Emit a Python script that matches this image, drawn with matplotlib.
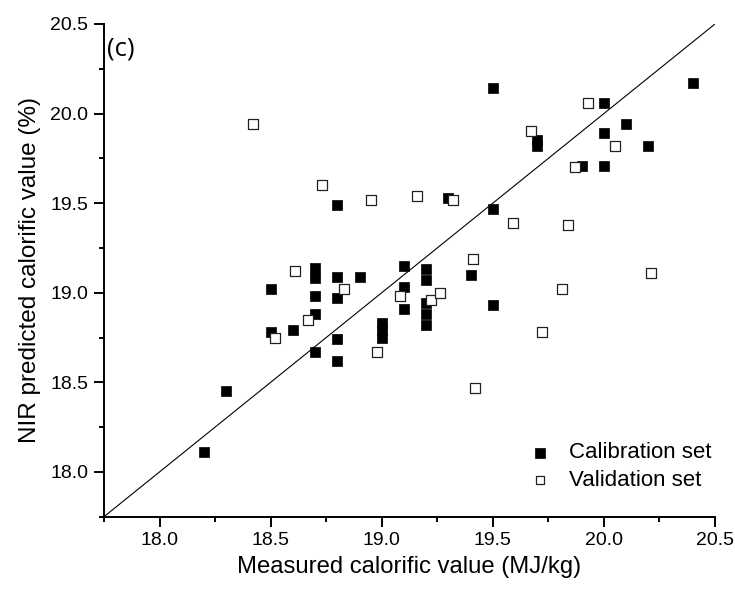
import matplotlib
matplotlib.use("Agg")
import matplotlib.pyplot as plt
from matplotlib.ticker import MultipleLocator
import numpy as np

plt.rcParams['font.family'] = ['Liberation Sans', 'DejaVu Sans']

# calibration set (filled squares)
cal_x = [18.2, 18.3, 18.5, 18.5, 18.6, 18.7, 18.7, 18.7, 18.7, 18.7,
         18.8, 18.8, 18.8, 18.8, 18.8, 18.9, 19.0, 19.0, 19.0, 19.1,
         19.1, 19.1, 19.2, 19.2, 19.2, 19.2, 19.2, 19.3, 19.4, 19.5,
         19.5, 19.5, 19.7, 19.7, 19.9, 20.0, 20.0, 20.0, 20.1, 20.2, 20.4]
cal_y = [18.11, 18.45, 19.02, 18.78, 18.79, 19.14, 19.08, 18.98, 18.88, 18.67,
         19.49, 19.09, 18.97, 18.74, 18.62, 19.09, 18.83, 18.79, 18.75, 19.15,
         19.03, 18.91, 19.13, 19.07, 18.94, 18.88, 18.82, 19.53, 19.10, 20.14,
         19.47, 18.93, 19.85, 19.82, 19.71, 20.06, 19.89, 19.71, 19.94, 19.82, 20.17]

# validation set (open squares)
val_x = [18.42, 18.73, 18.95, 19.16, 19.32, 18.61, 18.83, 18.67, 18.52, 18.98,
         19.08, 19.22, 19.26, 19.41, 19.42, 19.59, 19.67, 19.72, 19.81, 19.84,
         19.87, 19.93, 20.05, 20.21]
val_y = [19.94, 19.60, 19.52, 19.54, 19.52, 19.12, 19.02, 18.85, 18.75, 18.67,
         18.98, 18.96, 19.00, 19.19, 18.47, 19.39, 19.90, 18.78, 19.02, 19.38,
         19.70, 20.06, 19.82, 19.11]

lims = [17.75, 20.5]

fig = plt.figure(figsize=(7.35, 5.92), dpi=100)
ax = fig.add_axes([0.1415, 0.1272, 0.8313, 0.8323])

ax.plot(lims, lims, color='black', lw=0.8, zorder=1)
ax.scatter(cal_x, cal_y, marker='s', s=52, c='black', edgecolors='black',
           linewidths=0.5, zorder=3, label='Calibration set')
ax.scatter(val_x, val_y, marker='s', s=48, facecolors='white', edgecolors='#222222',
           linewidths=0.9, zorder=4, label='Validation set')

ax.set_xlim(lims)
ax.set_ylim(lims)
ax.spines['top'].set_visible(False)
ax.spines['right'].set_visible(False)
for sp in ['left', 'bottom']:
    ax.spines[sp].set_linewidth(1.4)

ax.xaxis.set_minor_locator(MultipleLocator(0.25))
ax.yaxis.set_minor_locator(MultipleLocator(0.25))
ax.set_xticks([18.0, 18.5, 19.0, 19.5, 20.0, 20.5])
ax.set_yticks([18.0, 18.5, 19.0, 19.5, 20.0, 20.5])
ax.tick_params(which='major', direction='out', length=7.2, width=1.4, labelsize=14, pad=4)
ax.tick_params(which='minor', direction='out', length=3.6, width=1.4)

ax.set_xlabel('Measured calorific value (MJ/kg)', fontsize=17.2, labelpad=5)
ax.set_ylabel('NIR predicted calorific value (%)', fontsize=17.5, labelpad=7)

fig.text(0.146, 0.917, '(c)', fontsize=18.5, family=['Open Sans', 'DejaVu Sans'], va='center')

ax.legend(loc='center left', bbox_to_anchor=(0.7197, 0.2117), bbox_transform=fig.transFigure,
          frameon=False, fontsize=16, handlelength=1.0, handletextpad=0.8,
          labelspacing=0.3, borderpad=0, borderaxespad=0, markerscale=0.9)

fig.savefig('out.png', dpi=100)
